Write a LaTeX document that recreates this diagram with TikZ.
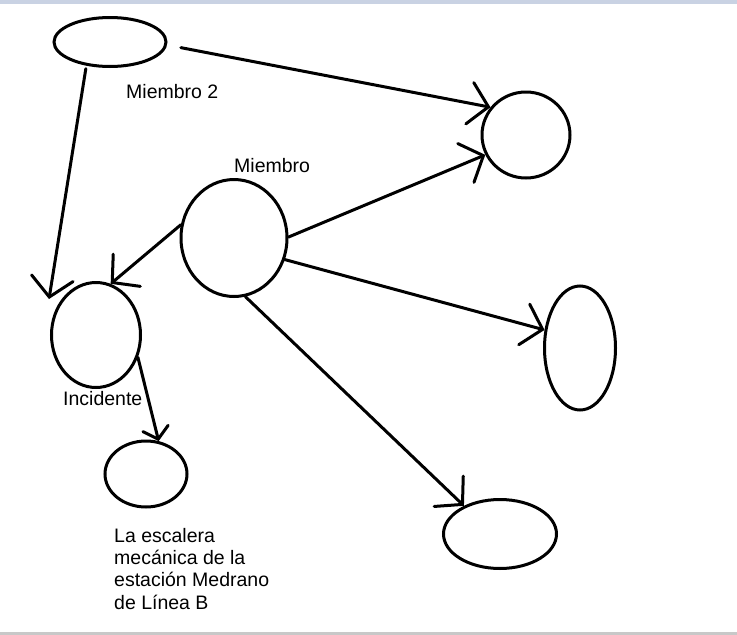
\documentclass[tikz,border=0pt]{standalone}
\usepackage{fontspec}
\setmainfont{Liberation Sans}
\usetikzlibrary{arrows.meta,shapes.geometric}

\definecolor{topband}{RGB}{201,210,227}
\definecolor{botband}{RGB}{200,200,200}

\begin{document}
\begin{tikzpicture}[x=1pt,y=-1pt,
  blob/.style={draw=black, ellipse, line width=3pt, inner sep=0pt},
  link/.style={line width=3pt, line cap=round,
    -{Straight Barb[length=19pt,width=42pt,line cap=round]}},
  lbl/.style={anchor=base west, inner sep=0pt, align=left,
    font=\fontsize{19.5}{22.3}\selectfont}]
  \useasboundingbox (0,0) rectangle (737,635);
  \fill[topband] (0,0) rectangle (737,4);
  \fill[botband] (0,632) rectangle (737,635);

  % ellipses
  \node[blob, minimum width=112pt, minimum height=49pt] (miembro2) at (110,42) {};
  \node[blob, minimum width=88pt, minimum height=86pt] (topright) at (526,135) {};
  \node[blob, minimum width=106pt, minimum height=117pt] (miembro) at (234,238) {};
  \node[blob, minimum width=89pt, minimum height=105pt] (incidente) at (96,335) {};
  \node[blob, minimum width=71pt, minimum height=124pt] (right) at (580,348) {};
  \node[blob, minimum width=113pt, minimum height=69pt] (bottomright) at (500,534) {};
  \node[blob, minimum width=82pt, minimum height=66pt] (escalera) at (146,474) {};
  % the arrow from Miembro 2 stops short of Incidente
  \coordinate (inctip) at (49,299);

  % labels (a multi-line node sits on its last baseline)
  \node[lbl] (lmiembro2) at (126,98) {Miembro 2};
  \node[lbl] (lmiembro) at (234,172) {Miembro};
  \node[lbl] (lincidente) at (63,405) {Incidente};
  \node[lbl] (lescalera) at (114,609) {La escalera\\mecánica de la\\estación Medrano\\de Línea B};

  % arrows
  \draw[link, shorten <=14pt] (miembro2.-3) -- (topright.142);
  \draw[link, shorten <=3pt] (miembro2.225) -- (inctip);
  \draw[link] (miembro.166) -- (incidente.74);
  \draw[link] (miembro.1) -- (topright.206);
  \draw[link] (miembro.-23) -- (right.153);
  \draw[link] (miembro.-79) -- (bottomright.142);
  \draw[link, -{Straight Barb[length=11pt,width=26pt,line cap=round]}] (incidente.-28) -- (escalera.69);
\end{tikzpicture}
\end{document}
